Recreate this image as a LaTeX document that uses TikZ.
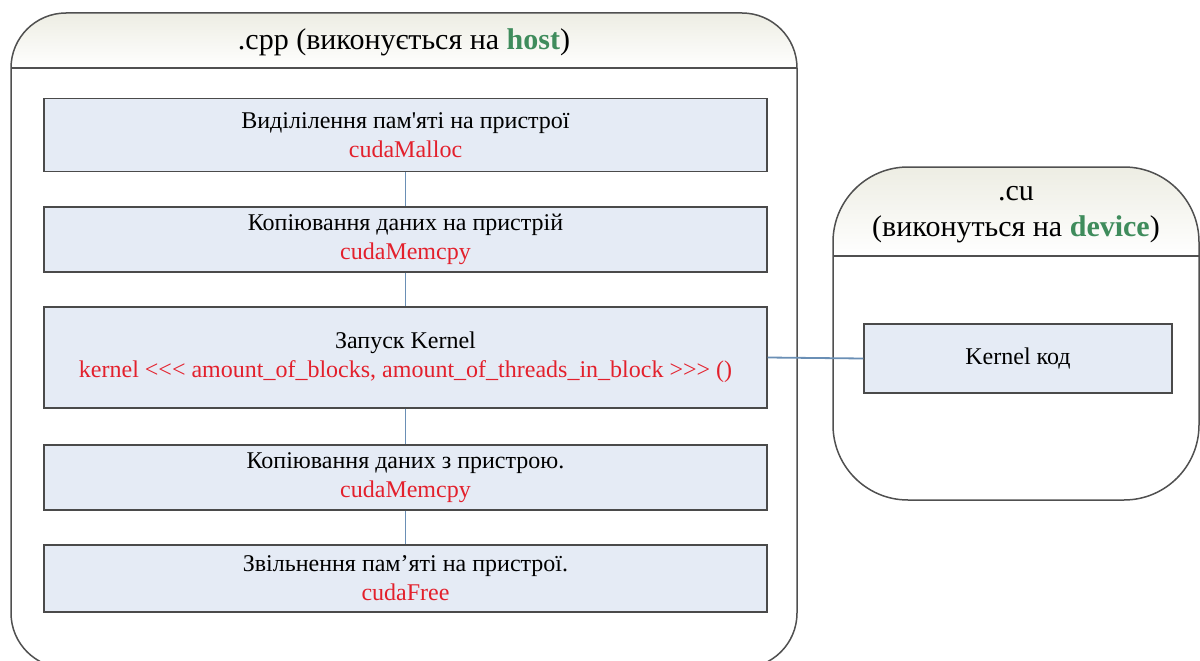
\documentclass[tikz,border=0pt]{standalone}
\usepackage{fontspec}
\setmainfont{Liberation Serif}
\usetikzlibrary{positioning}
\definecolor{boxfill}{HTML}{E5EBF5}
\definecolor{boxline}{HTML}{4A4A4A}
\definecolor{conn}{HTML}{6A8FB5}
\definecolor{redtxt}{HTML}{E3202C}
\definecolor{greentxt}{HTML}{3F8C5C}
\definecolor{headtop}{HTML}{EDEDE3}
\definecolor{frame}{HTML}{505050}
\tikzset{
  stepbox/.style={draw=boxline, line width=1.3pt, fill=boxfill, align=center,
    minimum width=723pt, inner sep=0pt, font=\fontsize{24}{29}\selectfont},
  kbox/.style={draw=boxline, line width=1.3pt, fill=boxfill, align=center,
    minimum width=308pt, minimum height=69pt, inner sep=0pt, font=\fontsize{24}{29}\selectfont},
  link/.style={draw=conn, line width=1.8pt},
  container/.style={draw=frame, line width=1.5pt},
  title/.style={font=\fontsize{30}{36}\selectfont, align=center}
}
\newcommand{\rt}[1]{{\color{redtxt}#1}}
\newcommand{\gt}[1]{{\color{greentxt}\bfseries #1}}
\begin{document}
\begin{tikzpicture}[x=1pt,y=-1pt]
\useasboundingbox (0,0) rectangle (1200,661);
% left container
\begin{scope}
  \clip[rounded corners=55pt] (11,13) rectangle (797,668);
  \shade[top color=headtop, bottom color=white] (11,13) rectangle (797,68);
\end{scope}
\draw[container, rounded corners=55pt] (11,13) rectangle (797,668);
\draw[container] (11,68) -- (797,68);
\node[title] (hosttitle) at (404,42) {.cpp (виконується на \gt{host})};
% right container
\begin{scope}
  \clip[rounded corners=75pt] (833,167) rectangle (1199,500);
  \shade[top color=headtop, bottom color=white] (833,167) rectangle (1199,256);
\end{scope}
\draw[container, rounded corners=75pt] (833,167) rectangle (1199,500);
\draw[container] (833,256) -- (1199,256);
\node[title] (devtitle) at (1016,215) {.cu\\(виконуться на \gt{device})};
% boxes
\node[stepbox, minimum height=73pt] (b1) at (405.5,135) {Виділілення пам\textquotesingle яті на пристрої\\\rt{cudaMalloc}};
\node[stepbox, minimum height=65pt] (b2) at (405.5,239.5) {Копіювання даних на пристрій\\\rt{cudaMemcpy}};
\node[stepbox, minimum height=101pt] (b3) at (405.5,357.5) {Запуск Kernel\\\rt{kernel <{}<{}< amount\_of\_blocks, amount\_of\_threads\_in\_block >{}>{}> ()}};
\node[stepbox, minimum height=65pt] (b4) at (405.5,477.5) {Копіювання даних з пристрою.\\\rt{cudaMemcpy}};
\node[stepbox, minimum height=67pt] (b5) at (405.5,578.5) {Звільнення пам’яті на пристрої.\\\rt{cudaFree}};
\node[kbox] (k) at (1018,358.5) {Kernel код};
% connectors
\draw[link] (b1.south) -- (b2.north);
\draw[link] (b2.south) -- (b3.north);
\draw[link] (b3.south) -- (b4.north);
\draw[link] (b4.south) -- (b5.north);
\draw[link] (b3.east) -- (k.west);
\end{tikzpicture}
\end{document}
